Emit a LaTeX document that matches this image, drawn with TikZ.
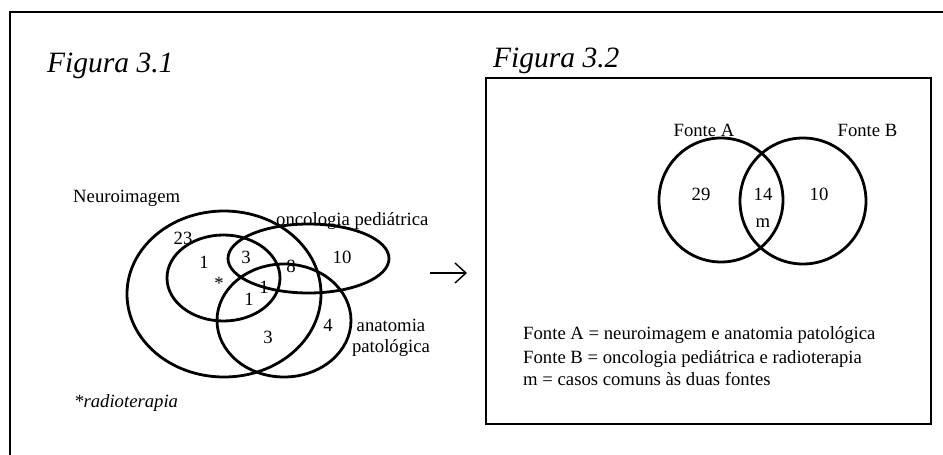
\documentclass[tikz,border=0pt]{standalone}
\usepackage{fontspec}
\setmainfont{Liberation Serif}
\usetikzlibrary{positioning, arrows.meta}

\begin{document}
\begin{tikzpicture}[x=1pt, y=-1pt, font=\fontsize{18.7}{22}\selectfont,
    venn/.style={line width=2.8pt},
    num/.style={inner sep=0pt, anchor=center},
    lbl/.style={inner sep=0pt, anchor=base west}]
\useasboundingbox (0,0) rectangle (943,455);
\draw[line width=2.5pt] (10,455) -- (10,12) -- (943,12);

% Figura 3.1
\node[lbl, font=\fontsize{29.5}{34}\selectfont\itshape] (fig31) at (47,72) {Figura 3.1};
\draw[venn] (224,294) ellipse [x radius=97, y radius=83];
\draw[venn] (223.5,278) ellipse [x radius=56.5, y radius=43];
\draw[venn] (308.5,258.5) ellipse [x radius=80.5, y radius=34.5];
\draw[venn] (284,320.5) ellipse [x radius=67, y radius=56.5];

\node[lbl] (neuro) at (73,202) {Neuroimagem};
\node[lbl] (onco) at (276,225) {oncologia pediátrica};
\node[inner sep=0pt, anchor=base] (anat) at (391,331) {anatomia};
\node[inner sep=0pt, anchor=base] (pato) at (391,352) {patológica};
\node[lbl, font=\fontsize{18.7}{22}\selectfont\itshape] (radio) at (74,407) {*radioterapia};

\node[num] (n23) at (183,238) {23};
\node[num] (n1a) at (204,262) {1};
\node[num] (n3a) at (246,257) {3};
\node[num] (n8) at (291,266) {8};
\node[num] (n10a) at (342,257) {10};
\node[num] (nstar) at (219,283.5) {*};
\node[num] (n1b) at (264,287) {1};
\node[num] (n1c) at (249,299) {1};
\node[num] (n4) at (328,325) {4};
\node[num] (n3b) at (268,337) {3};

% seta
\coordinate (arrowL) at (430,273);
\coordinate (arrowR) at (467,273);
\draw[-{Straight Barb[length=11pt, width=20pt]}, line width=1.4pt] (arrowL) -- (arrowR);

% Figura 3.2
\node[lbl, font=\fontsize{29.5}{34}\selectfont\itshape] (fig32) at (493,67) {Figura 3.2};
\draw[line width=1.2pt] (486,78) rectangle (931,424);
\draw[venn] (721,200) circle [radius=62];
\draw[venn] (803,201) circle [radius=63];

\node[inner sep=0pt, anchor=base] (fonteA) at (704,136) {Fonte A};
\node[inner sep=0pt, anchor=base] (fonteB) at (867.5,136) {Fonte B};
\node[num] (n29) at (701,194) {29};
\node[num] (n14) at (763,194) {14};
\node[num] (n10b) at (819,194) {10};
\node[num] (m) at (763,223) {m};

\node[lbl] (leg1) at (523,339) {Fonte A = neuroimagem e anatomia patológica};
\node[lbl] (leg2) at (523,363) {Fonte B = oncologia pediátrica e radioterapia};
\node[lbl] (leg3) at (523,385) {m = casos comuns às duas fontes};

\end{tikzpicture}
\end{document}
